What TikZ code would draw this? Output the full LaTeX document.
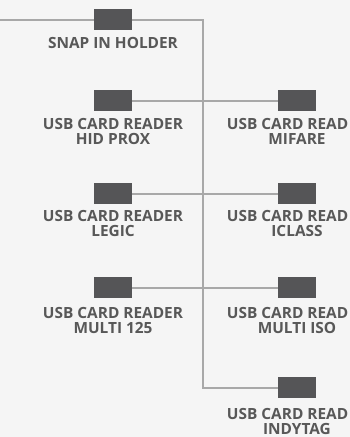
\documentclass[tikz,border=0pt]{standalone}
\usepackage{fontspec}
\setmainfont{Open Sans}
\definecolor{bgc}{HTML}{F5F5F5}
\definecolor{boxc}{HTML}{555557}
\definecolor{txtc}{HTML}{585858}
\definecolor{wirec}{HTML}{A8A8A8}
\begin{document}
\begin{tikzpicture}[x=1pt,y=-1pt,
  unit/.style={rectangle, fill=boxc, draw=none, inner sep=0pt, minimum width=38pt, minimum height=20.5pt},
  lbl/.style={anchor=north, inner sep=0pt, align=center, text=txtc, font=\bfseries\fontsize{15.4}{15.4}\selectfont},
  wire/.style={draw=wirec, line width=2pt}]
\useasboundingbox (0,0) rectangle (350,437);
\fill[bgc] (0,0) rectangle (350,437);
\begin{scope}
\clip (0,0) rectangle (350,437);
% boxes
\node[unit] (snap) at (113,19.5) {};
\node[unit] (hid) at (113,100.5) {};
\node[unit] (mif) at (297,100.5) {};
\node[unit] (leg) at (113,193.5) {};
\node[unit] (icl) at (297,193.5) {};
\node[unit] (m125) at (113,287.5) {};
\node[unit] (miso) at (297,287.5) {};
\node[unit] (indy) at (297,387.5) {};
% junction coordinates
\coordinate (start) at (0,19.5);
\coordinate (c1) at (203,19.5);
\coordinate (j2) at (203,100.5);
\coordinate (j3) at (203,193.5);
\coordinate (j4) at (203,287.5);
\coordinate (c5) at (203,387.5);
% wires
\draw[wire] (start) -- (snap.west);
\draw[wire] (snap.east) -- (c1) -- (c5) -- (indy.west);
\draw[wire] (hid.east) -- (j2) -- (mif.west);
\draw[wire] (leg.east) -- (j3) -- (icl.west);
\draw[wire] (m125.east) -- (j4) -- (miso.west);
% labels
\node[lbl] (tsnap) at (113,37) {SNAP IN HOLDER};
\node[lbl] (thid) at (113,118) {USB CARD READER\\HID PROX};
\node[lbl] (tmif) at (297,118) {USB CARD READ\phantom{ER}\\MIFARE};
\node[lbl] (tleg) at (113,210) {USB CARD READER\\LEGIC};
\node[lbl] (ticl) at (297,210) {USB CARD READ\phantom{ER}\\ICLASS};
\node[lbl] (tm125) at (113,307) {USB CARD READER\\MULTI 125};
\node[lbl] (tmiso) at (297,307) {USB CARD READ\phantom{ER}\\MULTI ISO};
\node[lbl, font=\bfseries\fontsize{15.4}{14.6}\selectfont] (tindy) at (297,408.5) {USB CARD READ\phantom{ER}\\INDYTAG};
\end{scope}
\end{tikzpicture}
\end{document}
